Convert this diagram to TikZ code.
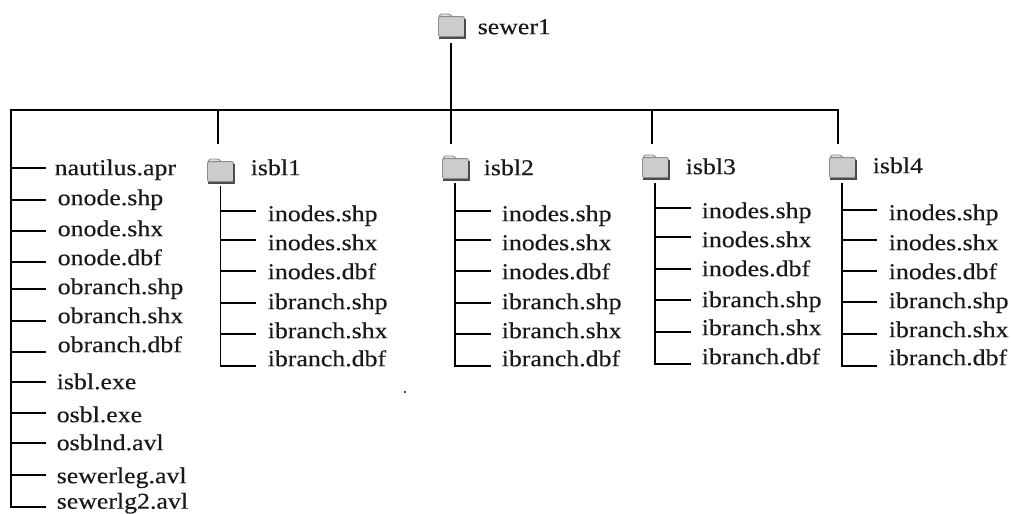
\documentclass[tikz,border=0pt]{standalone}
\usepackage{xcolor}
\usepackage{fontspec}
\usepackage{tikz}
\setmainfont{Liberation Serif}[FakeStretch=1.14, FakeBold=0.25]

\definecolor{foldergray}{gray}{0.80}
\definecolor{folderedge}{gray}{0.55}

\tikzset{
  file/.style={anchor=west, inner sep=0pt, text height=11.5pt, text depth=3.7pt, yshift=-1.5pt,
    font=\fontsize{17}{20}\selectfont, text=black!90},
  foldername/.style={file},
  folder/.style={rectangle, rounded corners=1.5pt, draw=folderedge, fill=foldergray,
    minimum width=19.5pt, minimum height=15pt, inner sep=0pt, anchor=south west, line width=0.7pt},
  foldertab/.style={draw=folderedge, fill=foldergray!60, line width=0.7pt, rounded corners=1pt},
  foldershade/.style={draw=black!70, line width=1.1pt},
}

% folder icon: name, left edge, bottom edge
\newcommand{\foldericon}[3]{
  \draw[foldertab] (#2+1,#3-19) -- ++(1,-4) -- ++(10,0) -- ++(3,4) -- cycle;
  \node[folder](#1) at (#2,#3) {};
  \draw[foldershade] (#2+1,#3+1) -- (#2+27,#3+1) -- (#2+27,#3-18);
}

\begin{document}
\begin{tikzpicture}[x=0.75pt, y=-0.75pt, line width=1.1pt]
  \useasboundingbox[fill=white] (0,0) rectangle (1011,514);

  % top folder and bus
  \foldericon{sewer}{438}{37}
  \node[foldername](sewerlabel) at (477,27) {sewer1};
  \coordinate(rootdown) at (451,43);
  \coordinate(busleft) at (11,110);
  \coordinate(busmid) at (451,110);
  \coordinate(busright) at (838,110);
  \coordinate(drop1) at (218,144);
  \coordinate(drop2) at (451,144);
  \coordinate(drop3) at (652,144);
  \coordinate(drop4) at (838,144);
  \coordinate(leftend) at (46,507);

  \draw (rootdown) -- (busmid);
  \draw (drop4) |- (busleft) |- (leftend);
  \draw (drop1) -- (drop1 |- busleft);
  \draw (drop2) -- (busmid);
  \draw (drop3) -- (drop3 |- busleft);

  % files in the top folder
  \foreach \nm/\tx/\ty/\by/\lbl in {
      f1/54/168/168/nautilus.apr, f2/57/198/200/onode.shp, f3/57/229/231/onode.shx,
      f4/57/258/262/onode.dbf, f5/57/287/289/obranch.shp, f6/57/316/321/obranch.shx,
      f7/57/345/352/obranch.dbf, f8/56/382/382/isbl.exe, f9/56/415/413/osbl.exe,
      f10/56/443/443/osblnd.avl, f11/56/476/475/sewerleg.avl} {
    \node[file](\nm) at (\tx,\ty) {\lbl};
    \coordinate(\nm a) at (11,\by);
    \coordinate(\nm b) at (46,\by);
    \draw (\nm a) -- (\nm b);
  }
  \node[file](f12) at (56,501.5) {sewerlg2.avl};

  % isbl1
  \foldericon{isbl1}{207}{182}
  \node[foldername](isbl1label) at (250,168) {isbl1};
  \coordinate(spine1) at (220.5,186);
  \coordinate(end1) at (256,366);
  \draw (spine1) |- (end1);
  \foreach \nm/\ty/\by/\lbl in {
      a1/214/211/inodes.shp, a2/243/240/inodes.shx, a3/272/271/inodes.dbf,
      a4/302/303/ibranch.shp, a5/331/334/ibranch.shx, a6/359/366/ibranch.dbf} {
    \node[file](\nm) at (267,\ty) {\lbl};
    \coordinate(\nm a) at (220.5,\by);
    \coordinate(\nm b) at (256,\by);
    \draw (\nm a) -- (\nm b);
  }

  % isbl2
  \foldericon{isbl2}{442}{179}
  \node[foldername](isbl2label) at (483,168) {isbl2};
  \coordinate(spine2) at (455,183);
  \coordinate(end2) at (491,366);
  \draw (spine2) |- (end2);
  \foreach \nm/\ty/\by/\lbl in {
      b1/214/211/inodes.shp, b2/243/240/inodes.shx, b3/272/271/inodes.dbf,
      b4/302/303/ibranch.shp, b5/331/334/ibranch.shx, b6/359/366/ibranch.dbf} {
    \node[file](\nm) at (501,\ty) {\lbl};
    \coordinate(\nm a) at (455,\by);
    \coordinate(\nm b) at (491,\by);
    \draw (\nm a) -- (\nm b);
  }

  % isbl3
  \foldericon{isbl3}{642}{178}
  \node[foldername](isbl3label) at (685,167) {isbl3};
  \coordinate(spine3) at (655,183);
  \coordinate(end3) at (691,364);
  \draw (spine3) |- (end3);
  \foreach \nm/\ty/\by/\lbl in {
      c1/211/208/inodes.shp, c2/240/237/inodes.shx, c3/269/269/inodes.dbf,
      c4/300/300/ibranch.shp, c5/328/332/ibranch.shx, c6/357/364/ibranch.dbf} {
    \node[file](\nm) at (701,\ty) {\lbl};
    \coordinate(\nm a) at (655,\by);
    \coordinate(\nm b) at (691,\by);
    \draw (\nm a) -- (\nm b);
  }

  % isbl4
  \foldericon{isbl4}{829}{178}
  \node[foldername](isbl4label) at (872,166) {isbl4};
  \coordinate(spine4) at (842,183);
  \coordinate(end4) at (877,366);
  \draw (spine4) |- (end4);
  \foreach \nm/\ty/\by/\lbl in {
      d1/213/210/inodes.shp, d2/243/240/inodes.shx, d3/272/271/inodes.dbf,
      d4/301/302/ibranch.shp, d5/330/334/ibranch.shx, d6/358/366/ibranch.dbf} {
    \node[file](\nm) at (888,\ty) {\lbl};
    \coordinate(\nm a) at (842,\by);
    \coordinate(\nm b) at (877,\by);
    \draw (\nm a) -- (\nm b);
  }

  % stray speck
  \fill[black!70] (404,391) rectangle (406,393);
\end{tikzpicture}
\end{document}
